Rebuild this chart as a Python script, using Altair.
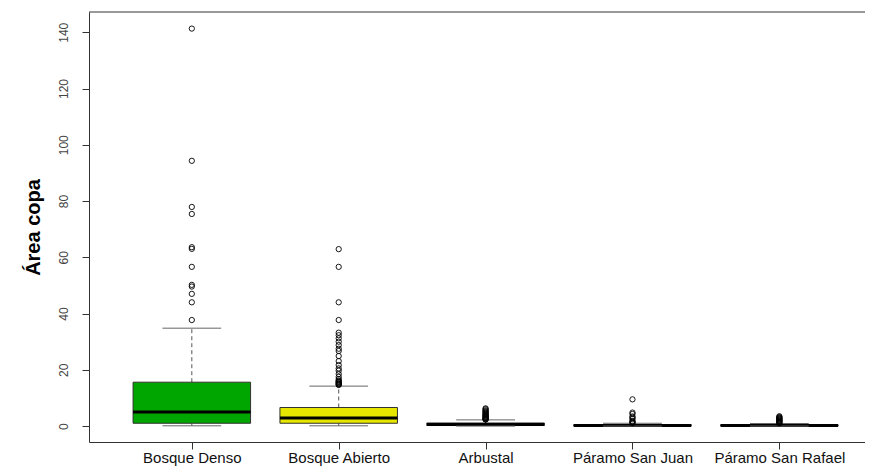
import json
import altair as alt
import pandas as pd

# ---- data ----
categories = ["Bosque Denso", "Bosque Abierto", "Arbustal", "Páramo San Juan", "Páramo San Rafael"]
box_colors = ["#00A600", "#E6E600", "#EAB64E", "#EEB99F", "#F2F2F2"]
whisker_low = [0.1, 0.1, 0.0, 0.0, 0.0]
q1 = [1.0, 1.0, 0.2, 0.05, 0.05]
median = [5.0, 2.9, 0.6, 0.2, 0.2]
q3 = [15.6, 6.6, 1.1, 0.5, 0.45]
whisker_high = [34.8, 14.2, 2.2, 1.0, 0.9]

outliers_denso = [141.3, 94.3, 77.9, 75.4, 63.6, 63.0, 56.6, 50.2, 49.6, 47.0, 44.0, 37.7]
outliers_abierto = [62.9, 56.6, 44.0, 37.7, 33.2, 32.3, 31.2, 30.0, 28.8, 27.5, 26.7,
                    24.9, 23.1, 21.7, 20.5, 19.7, 18.5, 17.5, 16.7, 16.2, 15.9, 15.7,
                    15.5, 15.2, 15.0, 14.8, 14.6]
outliers_arbustal = [2.3, 2.4, 2.5, 2.6, 2.8, 3.0, 3.2, 3.4, 3.6, 3.8, 4.0, 4.2, 4.5,
                     4.8, 5.0, 5.3, 5.6, 6.0, 6.3]
outliers_sanjuan = [9.5, 4.8, 4.3, 3.4, 3.0, 2.5, 1.8, 1.5, 1.2, 1.1]
outliers_sanrafael = [1.0, 1.2, 1.4, 1.6, 1.8, 2.0, 2.2, 2.4, 2.6, 2.8, 3.0, 3.2, 3.5]
y_ticks = [0, 20, 40, 60, 80, 100, 120, 140]

# ---- tables built from the arrays ----
stats = pd.DataFrame({
    "cat": categories,
    "pos": list(range(1, len(categories) + 1)),
    "color": box_colors,
    "lo": whisker_low,
    "q1": q1,
    "med": median,
    "q3": q3,
    "hi": whisker_high,
})
outlier_lists = [outliers_denso, outliers_abierto, outliers_arbustal,
                 outliers_sanjuan, outliers_sanrafael]
out_rows = []
for i, vals in enumerate(outlier_lists):
    for v in vals:
        out_rows.append({"pos": i + 1, "value": v})
outliers = pd.DataFrame(out_rows)

W, H = 776, 430
FONT = "Liberation Sans"

x_scale = alt.Scale(domain=[0.3, 5.583], nice=False, zero=False)
y_scale = alt.Scale(domain=[-5.66, 147.2], nice=False, zero=False)

names_js = json.dumps(categories, ensure_ascii=False)
x_axis = alt.Axis(
    values=[1, 2, 3, 4, 5], labelExpr=f"{names_js}[datum.value - 1]",
    title=None, grid=False, tickSize=7, tickColor="#333", domainColor="#333",
    labelFontSize=15, labelColor="#111", labelFont=FONT, labelPadding=1,
    labelBaseline="top", labelFlush=False, labelOverlap=False,
)
y_axis = alt.Axis(
    values=y_ticks, title="Área copa", grid=False, tickSize=7, tickColor="#333",
    domainColor="#333", labelAngle=270, labelAlign="center", labelBaseline="bottom",
    labelFontSize=12, labelColor="#444", labelFont=FONT, labelPadding=12,
    titleFont=FONT, titleFontSize=20, titleFontWeight="bold", titleColor="#000",
    titleAngle=270, titleAlign="center", titleBaseline="alphabetic",
    titleX=-50, titleY=H / 2,
)


def X(f):
    return alt.X(f, type="quantitative", scale=x_scale, axis=x_axis)


def Y(f):
    return alt.Y(f, type="quantitative", scale=y_scale, axis=y_axis)


base = alt.Chart(stats).transform_calculate(
    xl="datum.pos - 0.4", xr="datum.pos + 0.4",
    cl="datum.pos - 0.2", cr="datum.pos + 0.2",
)

whisk_up = base.mark_rule(color="#555", strokeDash=[4, 3], strokeWidth=1).encode(
    x=X("pos"), y=Y("q3"), y2="hi:Q")
whisk_lo = base.mark_rule(color="#555", strokeDash=[4, 3], strokeWidth=1).encode(
    x=X("pos"), y=Y("lo"), y2="q1:Q")
boxes = base.mark_rect(stroke="#333", strokeWidth=1).encode(
    x=X("xl"), x2="xr:Q", y=Y("q1"), y2="q3:Q",
    fill=alt.Fill("color:N", scale=None))
med_line = base.mark_rule(color="black", strokeWidth=3).encode(
    x=X("xl"), x2="xr:Q", y=Y("med"))
cap_hi = base.mark_rule(color="#666", strokeWidth=1).encode(
    x=X("cl"), x2="cr:Q", y=Y("hi"))
cap_lo = base.mark_rule(color="#666", strokeWidth=1).encode(
    x=X("cl"), x2="cr:Q", y=Y("lo"))
points = alt.Chart(outliers).mark_point(
    shape="circle", filled=False, size=28, color="black", strokeWidth=0.9, opacity=1
).encode(x=X("pos"), y=Y("value"))
top_frame = alt.Chart(pd.DataFrame({"a": [0]})).mark_rule(color="#333", strokeWidth=1).encode(
    x=alt.value(0), x2=alt.value(W), y=alt.value(0))

chart = alt.layer(
    whisk_up, whisk_lo, boxes, med_line, cap_hi, cap_lo, points, top_frame
).properties(
    width=W, height=H,
    autosize=alt.AutoSizeParams(type="none"),
    padding={"left": 81, "top": 4, "right": 0, "bottom": 24},
    background="white",
).configure_view(stroke=None)

chart.save("out.html", embed_options={"renderer": "svg", "actions": False})
